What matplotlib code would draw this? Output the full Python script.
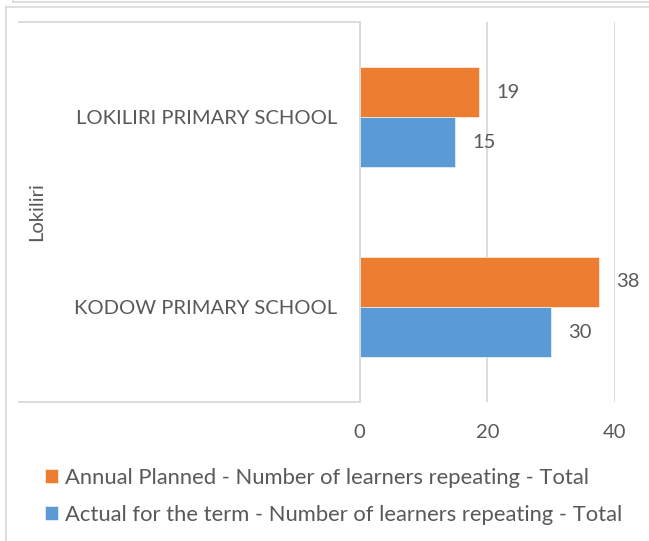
import matplotlib
matplotlib.use("Agg")
import matplotlib.pyplot as plt
from matplotlib.lines import Line2D

plt.rcParams['font.family'] = ['Lato', 'DejaVu Sans']

# ---- data ----
categories = ["KODOW PRIMARY SCHOOL", "LOKILIRI PRIMARY SCHOOL"]
group_label = "Lokiliri"
planned = [37.5, 18.75]
actual = [30, 15]
series_names = ["Annual Planned - Number of learners repeating - Total",
                "Actual for the term - Number of learners repeating - Total"]
xticks = [0, 20, 40]

ORANGE = "#ED7D31"
BLUE = "#5B9BD5"
TXT = "#595959"
GRID = "#D9D9D9"
FS = 14.5
LFS = 15.8

W, H = 649, 541
fig = plt.figure(figsize=(W / 100, H / 100), dpi=100)
fig.patch.set_facecolor("white")

def fx(px):
    return px / W

def fy(py):
    return 1 - py / H

ax = fig.add_axes([fx(359.5), fy(402), fx(615) - fx(359.5), fy(22) - fy(402)])

ypos = list(range(len(categories)))
bh = 50 / 190
b1 = ax.barh([y + bh / 2 for y in ypos], planned, height=bh, color=ORANGE,
             edgecolor="white", linewidth=0.4, label=series_names[0], zorder=3)
b2 = ax.barh([y - bh / 2 for y in ypos], actual, height=bh, color=BLUE,
             edgecolor="white", linewidth=0.4, label=series_names[1], zorder=3)

for cont, vals in ((b1, planned), (b2, actual)):
    ax.bar_label(cont, labels=[f"{v:.0f}" for v in vals], padding=12,
                 fontsize=FS, color=TXT, clip_on=False)

ax.set_xlim(0, 40)
ax.set_ylim(-0.5, len(categories) - 0.5)
ax.set_xticks(xticks)
ax.set_xticklabels([str(t) for t in xticks])
ax.set_yticks(ypos)
ax.set_yticklabels(categories)
ax.tick_params(axis="both", length=0, labelsize=FS, labelcolor=TXT)
ax.tick_params(axis="x", pad=16)
ax.tick_params(axis="y", pad=16)
ax.grid(axis="x", color=GRID, linewidth=1.3, zorder=0)
for s in ("top", "right", "bottom"):
    ax.spines[s].set_visible(False)
ax.spines["left"].set_color(GRID)
ax.spines["left"].set_linewidth(1.3)
ax.spines["left"].set_zorder(4)

# multi-level category box lines
for py in (22, 402):
    fig.add_artist(Line2D([fx(19), fx(359.5)], [fy(py), fy(py)], color=GRID, lw=1.3))

fig.text(fx(37), fy(211.5), group_label, rotation=90, ha="center", va="center",
         fontsize=FS, color=TXT)

# chart frames
fig.add_artist(Line2D([fx(5.5), fx(5.5)], [fy(6.5), 0], color=GRID, lw=1.2))
fig.add_artist(Line2D([fx(5.5), 1], [fy(6.5), fy(6.5)], color=GRID, lw=1.2))
fig.add_artist(Line2D([fx(13), 1], [fy(1.5), fy(1.5)], color=GRID, lw=1.2))
fig.add_artist(Line2D([fx(13), fx(13)], [fy(1.5), 1], color=GRID, lw=1.2))

leg = fig.legend(handles=[b1, b2], labels=series_names, loc="upper left",
                 bbox_to_anchor=(fx(45), fy(468)), frameon=False, fontsize=LFS,
                 handlelength=0.59, handleheight=0.59, handletextpad=0.32,
                 labelspacing=0.78, borderpad=0, borderaxespad=0)
for t in leg.get_texts():
    t.set_color(TXT)

fig.savefig("out.png", dpi=100)
